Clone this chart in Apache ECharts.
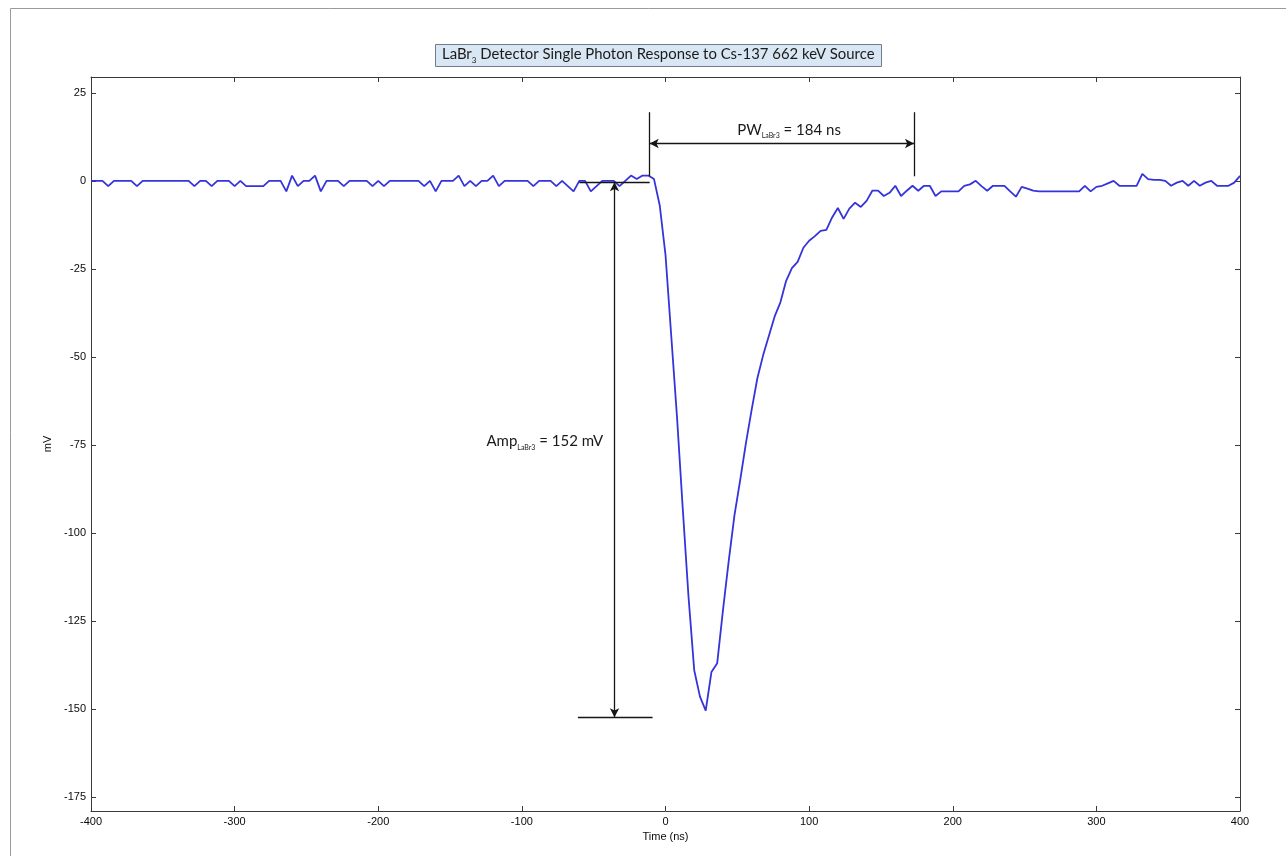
<!DOCTYPE html>
<html>
<head>
<meta charset="utf-8">
<script src="https://cdn.jsdelivr.net/npm/echarts@6/dist/echarts.min.js"></script>
<style>
  html, body { margin: 0; padding: 0; background: #ffffff; }
  #chart { width: 1286px; height: 856px; }
</style>
</head>
<body>
<div id="chart"></div>
<script>
// Sample times of the digitised waveform (ns)
const timeNs = [
  -400, -396, -392, -388, -384, -380, -376, -372, -368, -364,
  -360, -356, -352, -348, -344, -340, -336, -332, -328, -324,
  -320, -316, -312, -308, -304, -300, -296, -292, -288, -284,
  -280, -276, -272, -268, -264, -260, -256, -252, -248, -244,
  -240, -236, -232, -228, -224, -220, -216, -212, -208, -204,
  -200, -196, -192, -188, -184, -180, -176, -172, -168, -164,
  -160, -156, -152, -148, -144, -140, -136, -132, -128, -124,
  -120, -116, -112, -108, -104, -100, -96, -92, -88, -84,
  -80, -76, -72, -68, -64, -60, -56, -52, -48, -44,
  -40, -36, -32, -28, -24, -20, -16, -12, -8, -4,
  0, 4, 8, 12, 16, 20, 24, 28, 32, 36,
  40, 44, 48, 52, 56, 60, 64, 68, 72, 76,
  80, 84, 88, 92, 96, 100, 104, 108, 112, 116,
  120, 124, 128, 132, 136, 140, 144, 148, 152, 156,
  160, 164, 168, 172, 176, 180, 184, 188, 192, 196,
  200, 204, 208, 212, 216, 220, 224, 228, 232, 236,
  240, 244, 248, 252, 256, 260, 264, 268, 272, 276,
  280, 284, 288, 292, 296, 300, 304, 308, 312, 316,
  320, 324, 328, 332, 336, 340, 344, 348, 352, 356,
  360, 364, 368, 372, 376, 380, 384, 388, 392, 396,
  400
];

// Detector output (mV) at each sample time
const voltageMv = [
  0, 0, 0, -1.5, 0, 0, 0, 0, -1.5, 0,
  0, 0, 0, 0, 0, 0, 0, 0, -1.5, 0,
  0, -1.5, 0, 0, 0, -1.5, 0, -1.5, -1.5, -1.5,
  -1.5, 0, 0, 0, -3, 1.5, -1.5, 0, 0, 1.5,
  -3, 0, 0, 0, -1.5, 0, 0, 0, 0, -1.5,
  0, -1.5, 0, 0, 0, 0, 0, 0, -1.5, 0,
  -3, 0, 0, 0, 1.5, -1.5, 0, -1.5, 0, 0,
  1.5, -1.5, 0, 0, 0, 0, 0, -1.5, 0, 0,
  0, -1.5, 0, -1.5, -3, 0, 0, -3, -1.5, 0,
  0, 0, -1.5, 0, 1.5, 0.5, 1.5, 1.5, 0.5, -7,
  -21, -44, -67, -93, -118, -139, -146.5, -150.5, -139.5, -137,
  -122, -108, -95, -85, -74.5, -65, -56, -49.5, -44, -38.5,
  -34.5, -28.4, -24.8, -23, -19, -17, -15.7, -14.2, -13.9, -10.4,
  -7.7, -10.8, -7.9, -6.2, -7.4, -5.7, -2.8, -2.8, -4.3, -3.4,
  -1.4, -4.3, -2.8, -1.4, -2.8, -1.4, -1.4, -4.3, -3, -3,
  -3, -3, -1.4, -1, 0, -1.5, -2.8, -1.4, -1.4, -1.4,
  -3, -4.5, -1.7, -2.2, -2.8, -3, -3, -3, -3, -3,
  -3, -3, -3, -1.4, -3, -1.7, -1.4, -0.7, 0, -1.4,
  -1.4, -1.4, -1.4, 2, 0.5, 0.3, 0.3, 0, -1.4, -0.5,
  0, -1.4, 0, -1.4, -0.5, 0, -1.4, -1.4, -1.4, -0.5,
  1.4
];

// Axis tick values
const xTicks = [-400, -300, -200, -100, 0, 100, 200, 300, 400];
const yTicks = [-175, -150, -125, -100, -75, -50, -25, 0, 25];

// Pulse-width measurement (ns) and amplitude measurement (mV)
const pulseWidthStart = -11;
const pulseWidthEnd = 173;   // 184 ns wide
const amplitudeTop = -0.4;
const amplitudeBottom = -152.4; // 152 mV tall

const chart = echarts.init(document.getElementById('chart'), null, { renderer: 'canvas' });

const tickFont = 'Liberation Sans';
const noteFont = 'Lato';
const axisColor = '#3a3a3a';

const subRich = {
  m: { fontFamily: noteFont, fontSize: 15, fontWeight: 'normal', color: '#1a1a1a', lineHeight: 19, verticalAlign: 'middle' },
  s: { fontFamily: noteFont, fontSize: 7, fontWeight: 'normal', color: '#1a1a1a', lineHeight: 19, verticalAlign: 'bottom' }
};

const waveform = timeNs.map((t, i) => [t, voltageMv[i]]);

const option = {
  backgroundColor: '#ffffff',
  animation: false,
  title: {
    text: '{m|LaBr}{s|3}{m| Detector Single Photon Response to Cs-137 662 keV Source}',
    left: 435,
    top: 42,
    padding: [3, 7, 3, 7],
    backgroundColor: '#d9e7f4',
    borderColor: '#6f7d8a',
    borderWidth: 1,
    textStyle: {
      fontWeight: 'normal',
      rich: {
        m: { fontFamily: noteFont, fontSize: 14.9, fontWeight: 'normal', color: '#1a1a1a', lineHeight: 19, verticalAlign: 'middle' },
        s: { fontFamily: noteFont, fontSize: 8, fontWeight: 'normal', color: '#1a1a1a', lineHeight: 19, verticalAlign: 'bottom' }
      }
    }
  },
  grid: { left: 91, right: 46, top: 77, bottom: 45 },
  xAxis: [
    {
      type: 'value', min: -400, max: 400, interval: 100,
      axisLine: { show: true, onZero: false, lineStyle: { color: axisColor, width: 1 } },
      axisTick: { show: true, inside: true, length: 5, lineStyle: { color: axisColor } },
      axisLabel: { color: '#0a0a0a', fontFamily: tickFont, fontSize: 11, margin: 5 },
      splitLine: { show: false },
      name: 'Time (ns)', nameLocation: 'middle', nameGap: 17,
      nameTextStyle: { color: '#0a0a0a', fontFamily: tickFont, fontSize: 11 }
    },
    {
      type: 'value', position: 'top', min: -400, max: 400, interval: 100,
      axisLine: { show: true, onZero: false, lineStyle: { color: axisColor, width: 1 } },
      axisTick: { show: true, inside: true, length: 5, lineStyle: { color: axisColor } },
      axisLabel: { show: false },
      splitLine: { show: false }
    }
  ],
  yAxis: [
    {
      type: 'value', min: -179, max: 29.5,
      axisLine: { show: true, onZero: false, lineStyle: { color: axisColor, width: 1 } },
      axisTick: { show: true, inside: true, length: 5, customValues: yTicks, lineStyle: { color: axisColor } },
      axisLabel: { color: '#0a0a0a', fontFamily: tickFont, fontSize: 11, margin: 5, customValues: yTicks },
      splitLine: { show: false },
      name: 'mV', nameLocation: 'middle', nameGap: 37, nameRotate: 90,
      nameTextStyle: { color: '#0a0a0a', fontFamily: tickFont, fontSize: 11 }
    },
    {
      type: 'value', position: 'right', min: -179, max: 29.5,
      axisLine: { show: true, onZero: false, lineStyle: { color: axisColor, width: 1 } },
      axisTick: { show: true, inside: true, length: 5, customValues: yTicks, lineStyle: { color: axisColor } },
      axisLabel: { show: false, customValues: yTicks },
      splitLine: { show: false }
    }
  ],
  series: [
    {
      name: 'LaBr3 response',
      type: 'line',
      xAxisIndex: 0,
      yAxisIndex: 0,
      data: waveform,
      showSymbol: false,
      symbol: 'none',
      lineStyle: { color: '#3434da', width: 1.8 },
      z: 3,
      markLine: {
        silent: true,
        animation: false,
        symbol: ['none', 'none'],
        symbolSize: [7, 9],
        label: { show: false },
        lineStyle: { color: '#151515', width: 1.3, type: 'solid' },
        emphasis: { disabled: true },
        data: [
          [{ coord: [pulseWidthStart, 19.5] }, { coord: [pulseWidthStart, 1.3] }],
          [{ coord: [pulseWidthEnd, 19.5] }, { coord: [pulseWidthEnd, 1.3] }],
          [{ coord: [pulseWidthStart, 10.6], symbol: 'arrow' }, { coord: [pulseWidthEnd, 10.6], symbol: 'arrow' }],
          [{ coord: [-60, amplitudeTop] }, { coord: [-11, amplitudeTop] }],
          [{ coord: [-61, amplitudeBottom] }, { coord: [-9, amplitudeBottom] }],
          [{ coord: [-35.5, amplitudeTop], symbol: 'arrow' }, { coord: [-35.5, amplitudeBottom], symbol: 'arrow' }]
        ]
      },
      markPoint: {
        silent: true,
        animation: false,
        symbol: 'circle',
        symbolSize: 0,
        data: [
          {
            coord: [86, 14.5],
            label: { show: true, position: 'inside', formatter: '{m|PW}{s|LaBr3}{m| = 184 ns}', rich: subRich }
          },
          {
            coord: [-84, -74],
            label: { show: true, position: 'inside', formatter: '{m|Amp}{s|LaBr3}{m| = 152 mV}', rich: subRich }
          }
        ]
      }
    }
  ],
  graphic: [
    {
      type: 'rect',
      silent: true,
      shape: { x: 10.5, y: 8.5, width: 1400, height: 1000 },
      style: { fill: 'none', stroke: '#9a9a9a', lineWidth: 1 }
    }
  ]
};

chart.setOption(option);
</script>
</body>
</html>
